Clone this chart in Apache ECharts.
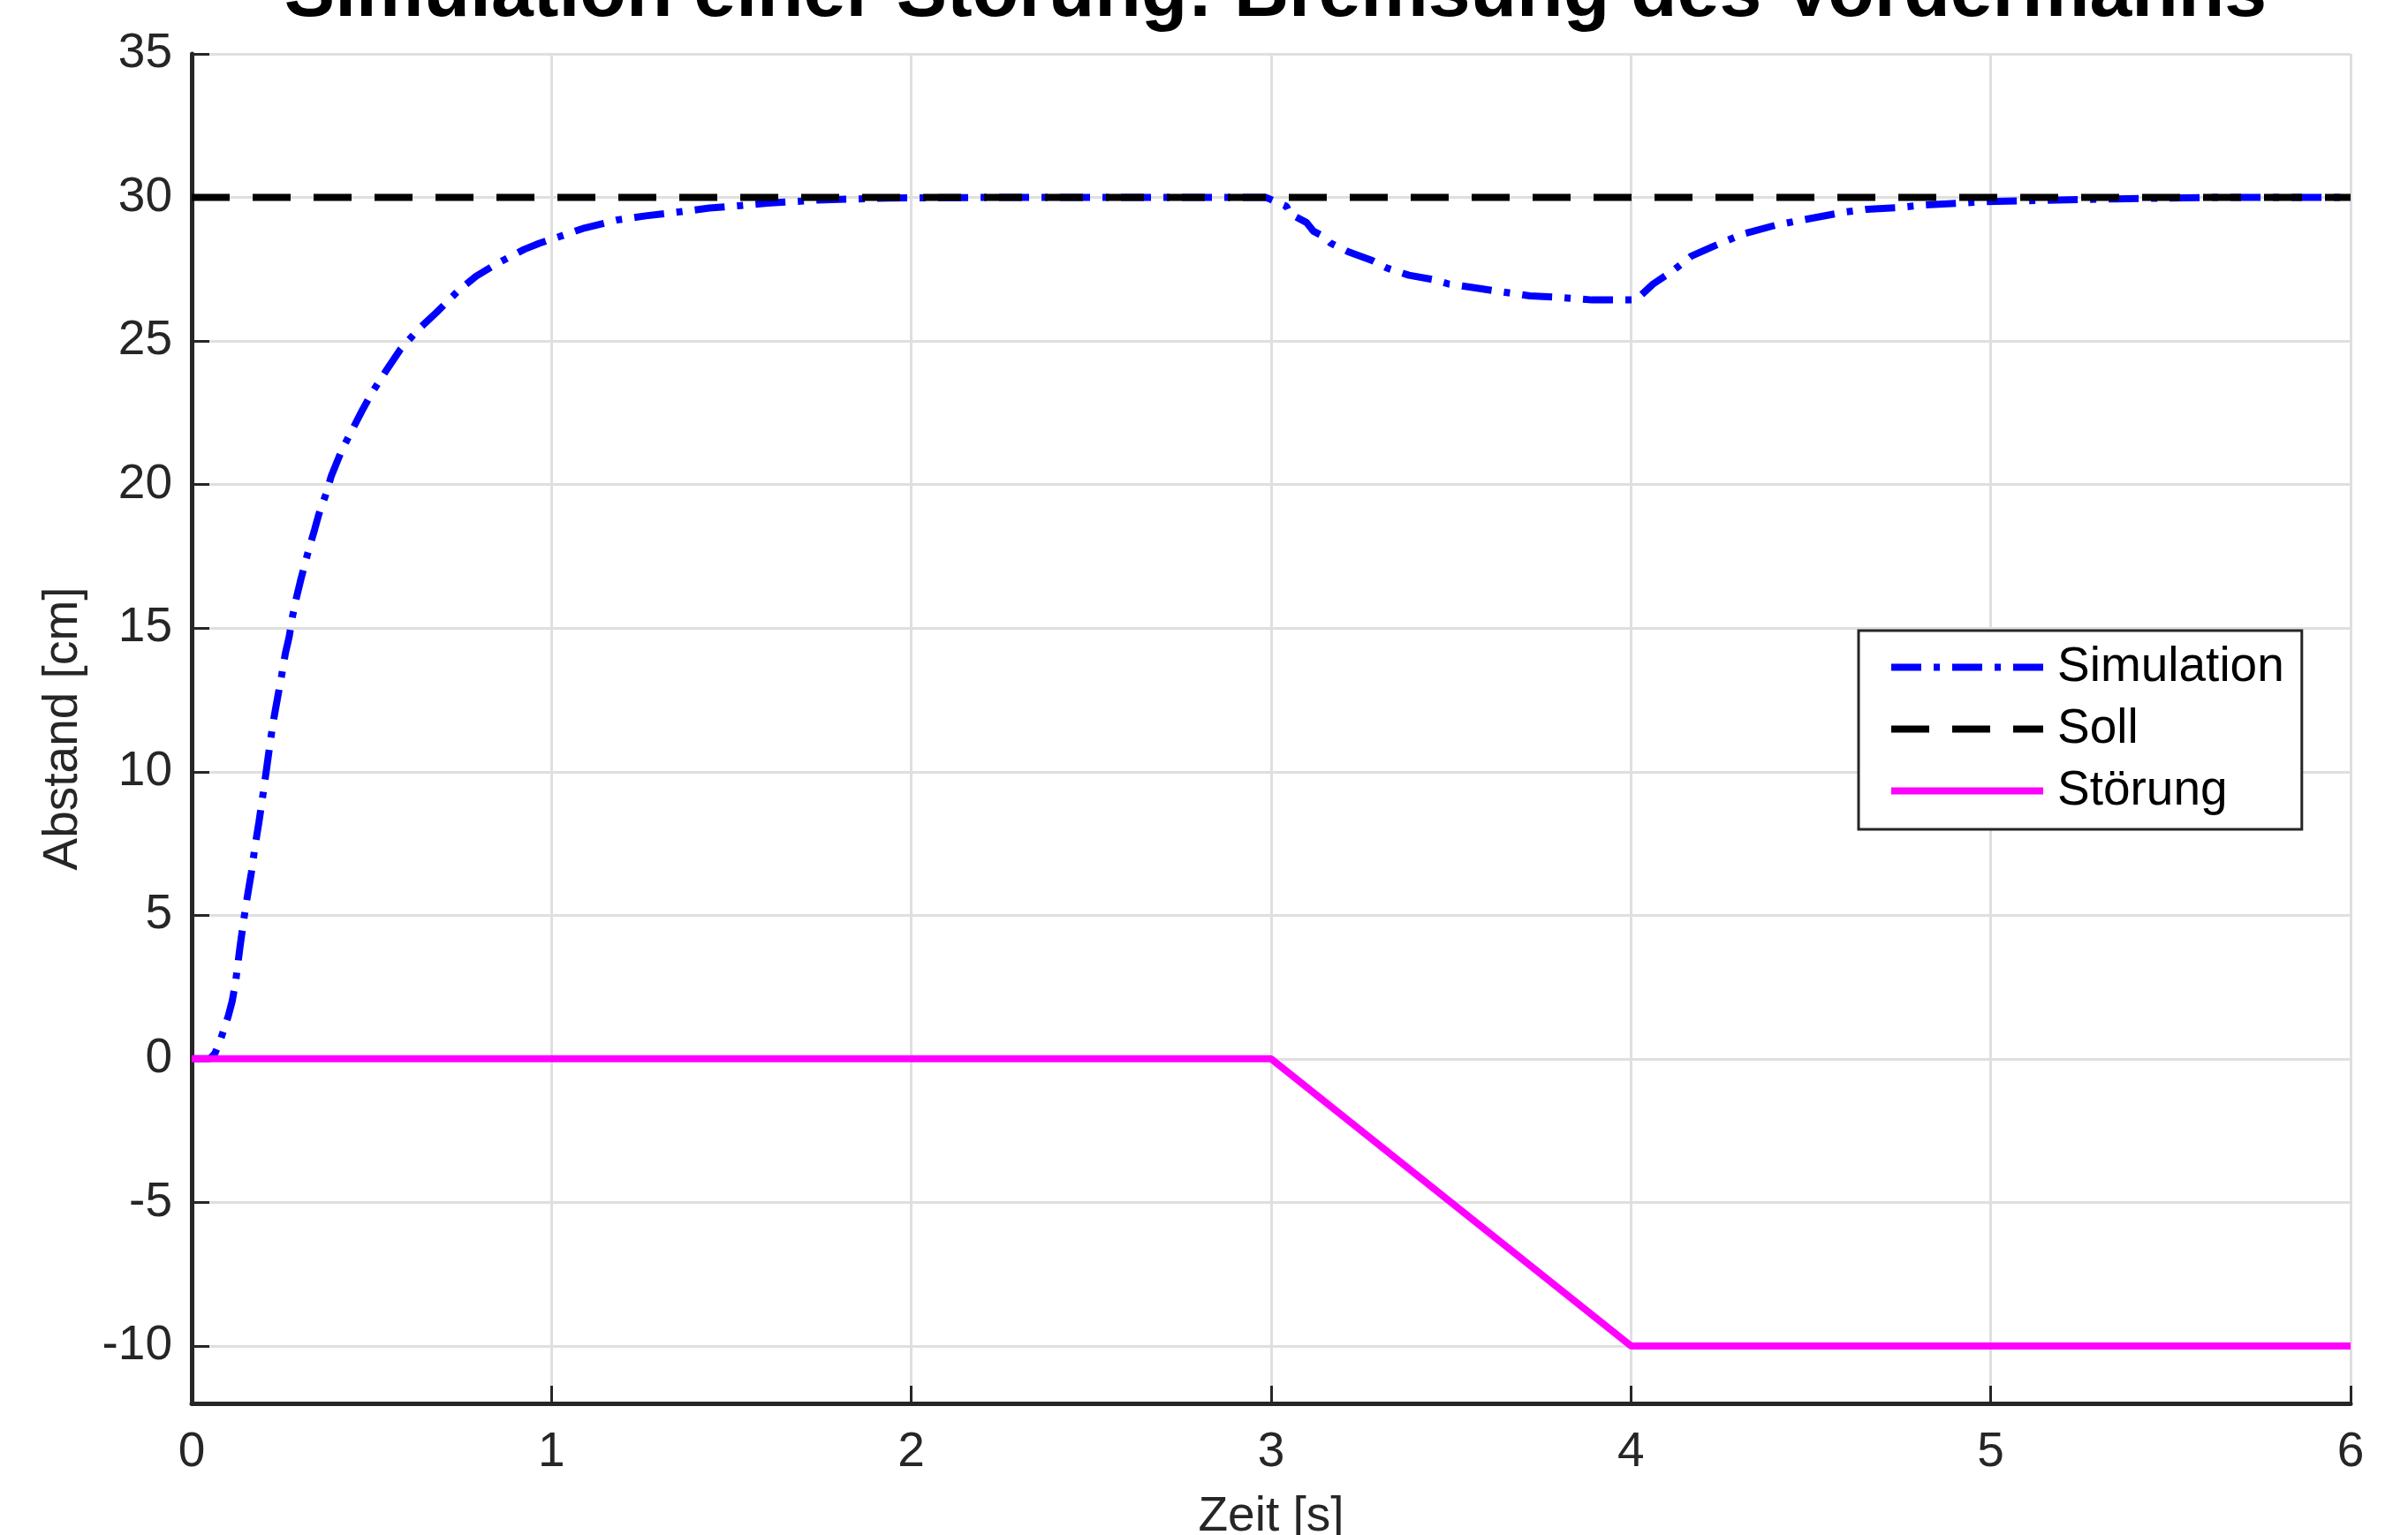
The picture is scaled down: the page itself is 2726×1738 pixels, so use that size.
<!DOCTYPE html>
<html>
<head>
<meta charset="utf-8">
<script src="https://cdn.jsdelivr.net/npm/echarts@6/dist/echarts.min.js"></script>
<style>
html,body{margin:0;padding:0;background:#fff;}
#chart{width:2726px;height:1738px;}
</style>
</head>
<body>
<div id="chart"></div>
<script>
// ---- data ----
const titleText = 'Simulation einer Störung: Bremsung des Vordermanns';
const xName = 'Zeit [s]';
const yName = 'Abstand [cm]';
const seriesNames = ['Simulation', 'Soll', 'Störung'];

const simTime = [0, 0.05, 0.065, 0.080, 0.102, 0.113, 0.123, 0.134, 0.145, 0.154, 0.166, 0.176, 0.187, 0.197, 0.209, 0.219, 0.229, 0.239, 0.250, 0.260, 0.271, 0.280, 0.290, 0.304, 0.322, 0.342, 0.353, 0.374, 0.388, 0.417, 0.445, 0.473, 0.501, 0.539, 0.579, 0.628, 0.680, 0.741, 0.790, 0.849, 0.924, 0.966, 1.018, 1.093, 1.185, 1.262, 1.357, 1.439, 1.526, 1.600, 1.741, 1.939, 2.2, 2.5, 2.8, 2.986,
  3.043, 3.051, 3.098, 3.118, 3.149, 3.165, 3.214, 3.281, 3.322, 3.383, 3.454, 3.495, 3.552, 3.637, 3.719, 3.800, 3.892, 3.977, 4.014,
  4.061, 4.116, 4.167, 4.228, 4.309, 4.401, 4.482, 4.594, 4.655, 4.737, 4.818, 4.981, 5.144, 5.347, 5.6, 6.0];
const simValue = [0, 0, 0.2, 0.66, 1.5, 2.03, 2.77, 3.87, 4.87, 5.6, 6.5, 7.4, 8.25, 9.11, 10.18, 11.1, 11.9, 12.6, 13.35, 14.1, 14.7, 15.4, 16.0, 16.73, 17.58, 18.45, 18.95, 19.7, 20.3, 21.19, 21.88, 22.56, 23.2, 23.94, 24.69, 25.38, 25.99, 26.75, 27.25, 27.7, 28.19, 28.40, 28.62, 28.94, 29.22, 29.36, 29.50, 29.63, 29.72, 29.80, 29.91, 29.98, 30, 30, 30, 30,
  29.69, 29.44, 29.13, 28.82, 28.62, 28.41, 28.11, 27.80, 27.54, 27.29, 27.13, 26.98, 26.88, 26.72, 26.57, 26.52, 26.43, 26.43, 26.43,
  26.98, 27.44, 27.95, 28.29, 28.72, 29.03, 29.23, 29.49, 29.59, 29.64, 29.74, 29.85, 29.90, 29.95, 30, 30];

const sollTime = [0, 6];
const sollValue = [30, 30];

const stoerTime = [0, 3, 4, 6];
const stoerValue = [0, 0, -10, -10];

const xTicks = [0, 1, 2, 3, 4, 5, 6];
const yTicks = [-10, -5, 0, 5, 10, 15, 20, 25, 30, 35];

function pairs(xs, ys) { return xs.map((x, i) => [x, ys[i]]); }

const FONT = '"Liberation Sans", Arial, Helvetica, sans-serif';
const AXIS_COLOR = '#262626';
const GRID_COLOR = '#dfdfdf';

const chart = echarts.init(document.getElementById('chart'), null, {renderer: 'canvas'});
chart.setOption({
  animation: false,
  backgroundColor: '#ffffff',
  title: {
    text: titleText,
    left: 1439,
    textAlign: 'center',
    top: -54,
    textStyle: {fontFamily: FONT, fontSize: 86, fontWeight: 'bold', color: '#000'}
  },
  grid: {left: 217, right: 65, top: 61, bottom: 149, containLabel: false, outerBoundsMode: 'none'},
  xAxis: {
    type: 'value',
    min: xTicks[0], max: xTicks[xTicks.length - 1], interval: 1,
    name: xName, nameLocation: 'middle', nameGap: 101,
    nameTextStyle: {fontFamily: FONT, fontSize: 55, color: AXIS_COLOR},
    axisLine: {show: true, onZero: false, lineStyle: {color: AXIS_COLOR, width: 5}},
    axisTick: {show: true, inside: true, length: 20, lineStyle: {color: AXIS_COLOR, width: 3}},
    axisLabel: {margin: 28, fontFamily: FONT, fontSize: 55, color: AXIS_COLOR,
      formatter: v => xTicks.includes(v) ? String(v) : ''},
    splitLine: {show: true, lineStyle: {color: GRID_COLOR, width: 3}}
  },
  yAxis: {
    type: 'value',
    min: -12, max: 35, splitNumber: 10,
    name: yName, nameLocation: 'middle', nameGap: 118,
    nameTextStyle: {fontFamily: FONT, fontSize: 55, color: AXIS_COLOR},
    axisLine: {show: true, onZero: false, lineStyle: {color: AXIS_COLOR, width: 5}},
    axisTick: {show: true, inside: true, length: 20, lineStyle: {color: AXIS_COLOR, width: 3}},
    axisLabel: {margin: 22, fontFamily: FONT, fontSize: 55, color: AXIS_COLOR,
      formatter: v => yTicks.includes(v) ? String(v) : ''},
    splitLine: {show: true, lineStyle: {color: GRID_COLOR, width: 3}}
  },
  legend: {
    orient: 'vertical',
    left: 2104, top: 714,
    padding: [14, 20, 16, 33],
    itemWidth: 172, itemHeight: 30, itemGap: 15,
    borderColor: AXIS_COLOR, borderWidth: 3, backgroundColor: '#ffffff',
    selectedMode: false,
    itemStyle: {opacity: 0},
    lineStyle: {width: 8, opacity: 1, cap: 'butt'},
    textStyle: {fontFamily: FONT, fontSize: 55, color: '#000', lineHeight: 54, padding: [0, 0, 0, 11]},
    data: seriesNames
  },
  series: [
    {
      name: seriesNames[0], type: 'line', symbol: 'none', showSymbol: false,
      data: pairs(simTime, simValue),
      lineStyle: {color: '#0000ff', width: 8, type: [34, 14, 7, 14], cap: 'butt'},
      itemStyle: {color: '#0000ff'},
      z: 2
    },
    {
      name: seriesNames[1], type: 'line', symbol: 'none', showSymbol: false,
      data: pairs(sollTime, sollValue),
      lineStyle: {color: '#000000', width: 8, type: [43, 26], cap: 'butt'},
      itemStyle: {color: '#000000'},
      z: 3
    },
    {
      name: seriesNames[2], type: 'line', symbol: 'none', showSymbol: false,
      data: pairs(stoerTime, stoerValue),
      lineStyle: {color: '#ff00ff', width: 8, type: 'solid'},
      itemStyle: {color: '#ff00ff'},
      z: 4
    }
  ]
});
</script>
</body>
</html>
